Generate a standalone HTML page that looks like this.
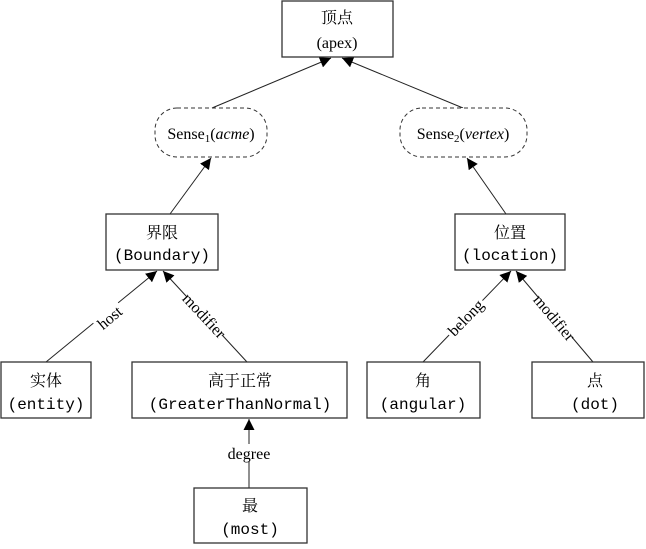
<!DOCTYPE html>
<html><head><meta charset="utf-8"><style>
html,body{margin:0;padding:0;background:#fff;}
svg{display:block;}
.cn{font-family:"Liberation Serif","Noto Serif CJK SC",serif;font-size:16px;fill:#000;}
.mono{font-family:"Liberation Mono","Noto Sans CJK SC",monospace;font-size:16px;fill:#000;}
.sr{font-family:"Liberation Serif",serif;font-size:16px;fill:#000;}
.box{fill:#fff;stroke:#333;stroke-width:1.3;}
.ln{stroke:#222;stroke-width:1;fill:none;}
</style></head><body>
<svg width="646" height="549" viewBox="0 0 646 549" xmlns="http://www.w3.org/2000/svg">
<defs>
<marker id="a" viewBox="0 0 10 10" refX="10" refY="5" markerWidth="11" markerHeight="11" markerUnits="userSpaceOnUse" orient="auto">
<path d="M0,0 L10,5 L0,10 z" fill="#000"/></marker>
</defs>
<!-- edges -->
<line class="ln" x1="212" y1="108" x2="331" y2="58" marker-end="url(#a)"/>
<line class="ln" x1="463" y1="108" x2="342" y2="58" marker-end="url(#a)"/>
<line class="ln" x1="170" y1="214" x2="211" y2="158" marker-end="url(#a)"/>
<line class="ln" x1="506" y1="214" x2="467" y2="158" marker-end="url(#a)"/>
<line class="ln" x1="46" y1="362" x2="157" y2="271" marker-end="url(#a)"/>
<line class="ln" x1="247" y1="362" x2="163" y2="271" marker-end="url(#a)"/>
<line class="ln" x1="423" y1="362" x2="511" y2="271" marker-end="url(#a)"/>
<line class="ln" x1="593" y1="362" x2="516" y2="271" marker-end="url(#a)"/>
<line class="ln" x1="249" y1="488" x2="249" y2="419" marker-end="url(#a)"/>
<!-- edge labels -->
<g transform="translate(110,318) rotate(-40)"><rect x="-16" y="-9" width="32" height="16" fill="#fff"/><text class="sr" text-anchor="middle" y="5">host</text></g>
<g transform="translate(204,316) rotate(47)"><rect x="-26" y="-9" width="52" height="16" fill="#fff"/><text class="sr" text-anchor="middle" y="5">modifier</text></g>
<g transform="translate(466,318) rotate(-46)"><rect x="-24" y="-9" width="48" height="16" fill="#fff"/><text class="sr" text-anchor="middle" y="5">belong</text></g>
<g transform="translate(554,318) rotate(50)"><rect x="-26" y="-9" width="52" height="16" fill="#fff"/><text class="sr" text-anchor="middle" y="5">modifier</text></g>
<rect x="222" y="444" width="54" height="18" fill="#fff"/>
<text class="sr" x="249" y="459" text-anchor="middle">degree</text>
<!-- nodes -->
<rect class="box" x="282" y="1" width="111" height="56"/>
<text class="cn" x="337" y="23" text-anchor="middle">顶点</text>
<text class="sr" x="337" y="48" text-anchor="middle">(apex)</text>

<rect x="155" y="108" width="112" height="49" rx="22" fill="#fff" stroke="#333" stroke-dasharray="4,3"/>
<text class="sr" x="211" y="139" text-anchor="middle">Sense<tspan font-size="11" dy="3">1</tspan><tspan dy="-3">(</tspan><tspan font-style="italic">acme</tspan>)</text>
<rect x="400" y="108" width="127" height="49" rx="22" fill="#fff" stroke="#333" stroke-dasharray="4,3"/>
<text class="sr" x="463" y="139" text-anchor="middle">Sense<tspan font-size="11" dy="3">2</tspan><tspan dy="-3">(</tspan><tspan font-style="italic">vertex</tspan>)</text>

<rect class="box" x="106" y="214" width="112" height="56"/>
<text class="cn" x="162" y="238" text-anchor="middle">界限</text>
<text class="mono" x="162" y="260" text-anchor="middle">(Boundary)</text>
<rect class="box" x="455" y="214" width="110" height="56"/>
<text class="cn" x="510" y="238" text-anchor="middle">位置</text>
<text class="mono" x="510" y="260" text-anchor="middle">(location)</text>

<rect class="box" x="1" y="362" width="90" height="56"/>
<text class="cn" x="46" y="386" text-anchor="middle">实体</text>
<text class="mono" x="46" y="409" text-anchor="middle">(entity)</text>
<rect class="box" x="132" y="362" width="215" height="56"/>
<text class="cn" x="240" y="386" text-anchor="middle">高于正常</text>
<text class="mono" x="240" y="409" text-anchor="middle">(GreaterThanNormal)</text>
<rect class="box" x="367" y="362" width="113" height="56"/>
<text class="cn" x="423" y="386" text-anchor="middle">角</text>
<text class="mono" x="423" y="409" text-anchor="middle">(angular)</text>
<rect class="box" x="532" y="362" width="112" height="56"/>
<text class="cn" x="595" y="386" text-anchor="middle">点</text>
<text class="mono" x="595" y="409" text-anchor="middle">(dot)</text>

<rect class="box" x="194" y="488" width="113" height="55"/>
<text class="cn" x="250" y="511" text-anchor="middle">最</text>
<text class="mono" x="250" y="534" text-anchor="middle">(most)</text>
</svg>
</body></html>
